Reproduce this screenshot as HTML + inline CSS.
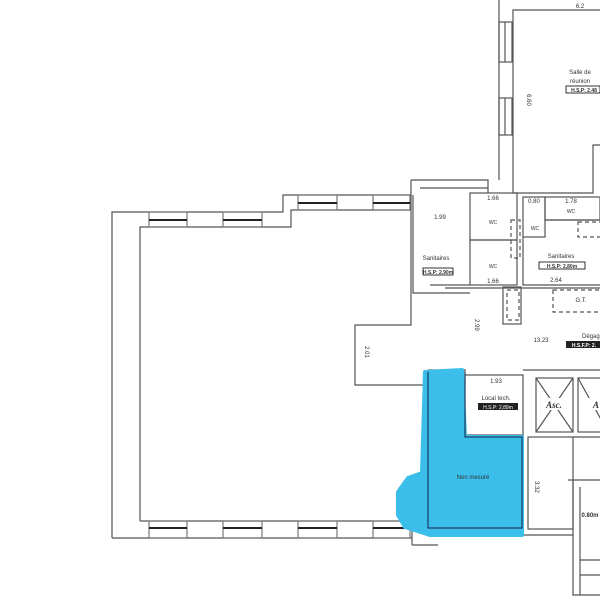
<!DOCTYPE html>
<html><head><meta charset="utf-8"><style>
html,body{margin:0;padding:0;background:#fff;}
svg{display:block;font-family:"Liberation Sans",sans-serif;}
</style></head><body>
<svg width="600" height="600" viewBox="0 0 600 600" xmlns="http://www.w3.org/2000/svg">
<g fill="none" stroke="#555" stroke-width="1.2">
<polyline points="112,538 112,212 283,212 283,195 411,195"/>
<polyline points="140,521 140,227 291,227 291,210 411,210"/>
<line x1="112" y1="538" x2="412" y2="538"/>
<line x1="140" y1="521" x2="412" y2="521"/>
<g stroke="#777">
<rect x="149" y="212" width="38" height="15"/><line x1="149" y1="220" x2="187" y2="220" stroke-width="2" stroke="#222"/>
<rect x="223" y="212" width="39" height="15"/><line x1="223" y1="220" x2="262" y2="220" stroke-width="2" stroke="#222"/>
<rect x="298" y="195" width="39" height="15"/><line x1="298" y1="203" x2="337" y2="203" stroke-width="2" stroke="#222"/>
<rect x="373" y="195" width="37" height="15"/><line x1="373" y1="203" x2="410" y2="203" stroke-width="2" stroke="#222"/>
<rect x="149" y="521" width="38" height="17"/><line x1="149" y1="528" x2="187" y2="528" stroke-width="2" stroke="#222"/>
<rect x="223" y="521" width="39" height="17"/><line x1="223" y1="528" x2="262" y2="528" stroke-width="2" stroke="#222"/>
<rect x="298" y="521" width="39" height="17"/><line x1="298" y1="528" x2="337" y2="528" stroke-width="2" stroke="#222"/>
<rect x="373" y="521" width="37" height="17"/><line x1="373" y1="528" x2="410" y2="528" stroke-width="2" stroke="#222"/>
</g>
<polyline points="411,180 411,325 355,325 355,385 428,385"/>
<polyline points="413,195 413,293 470,293"/>
<polyline points="411,180 488,180 488,193"/>
<line x1="420" y1="188" x2="488" y2="188"/>
<line x1="499" y1="0" x2="499" y2="180"/>
<polyline points="513,193 513,10 600,10"/>
<rect x="499" y="22" width="13" height="40"/><line x1="505" y1="22" x2="505" y2="62"/>
<rect x="499" y="98" width="13" height="37"/><line x1="505" y1="98" x2="505" y2="135"/>
<polyline points="513,193 593,193 593,145 600,145"/>
<rect x="470" y="193" width="47" height="47"/>
<rect x="470" y="240" width="47" height="45"/>
<rect x="523" y="197" width="22" height="40"/>
<rect x="545" y="197" width="55" height="23"/>
<polyline points="523,237 523,285 600,285"/>
<line x1="545" y1="220" x2="600" y2="220"/>
<line x1="445" y1="288" x2="600" y2="288"/>
<line x1="430" y1="285" x2="470" y2="285"/>
<g stroke-dasharray="4,3">
<rect x="511" y="220" width="9" height="38"/>
<rect x="507" y="290" width="12" height="30"/>
<rect x="553" y="290" width="50" height="22"/>
<rect x="578" y="222" width="25" height="15"/>
</g>
<rect x="503" y="287" width="18" height="37"/>
<rect x="465" y="375" width="58" height="60"/>
<polyline points="428,370 465,370 465,375"/>
<line x1="523" y1="370" x2="600" y2="370"/>
<rect x="536" y="378" width="37" height="54"/>
<line x1="536" y1="378" x2="573" y2="432"/><line x1="573" y1="378" x2="536" y2="432"/>
<rect x="578" y="378" width="30" height="54"/>
<line x1="578" y1="378" x2="608" y2="432"/>
<rect x="528" y="437" width="45" height="92"/>
<line x1="430" y1="535" x2="573" y2="535"/>
<polyline points="568,480 600,480"/><polyline points="573,480 573,595 600,595"/>
<line x1="580" y1="487" x2="580" y2="595"/>
<line x1="580" y1="560" x2="600" y2="560"/><line x1="580" y1="575" x2="600" y2="575"/>
<line x1="573" y1="437" x2="600" y2="437"/>
<line x1="412" y1="521" x2="412" y2="545"/><line x1="412" y1="545" x2="438" y2="545"/>
</g>
<path d="M425,372 L462,370 L465,437 L522,437 L522,535 L430,535 L405,527 L398,515 L398,492 L408,478 L422,473 Z" fill="#3bbfea" stroke="#3bbfea" stroke-width="4" stroke-linejoin="round"/>
<polyline points="428,372 428,528 522,528 522,437 465,437 465,372" fill="none" stroke="#124" stroke-width="1"/>
<rect x="543" y="398" width="22" height="12" fill="#fff"/>
<rect x="588" y="398" width="12" height="12" fill="#fff"/>
<g fill="#333" font-size="6" text-anchor="middle">
<text x="580" y="74">Salle de</text><text x="580" y="83">réunion</text>
<rect x="566" y="86" width="34" height="7" fill="none" stroke="#000" stroke-width="0.8"/>
<text x="584" y="92" font-size="5" font-weight="bold">H.S.P: 2.48</text>
<text x="527" y="100" transform="rotate(90 527 100)">6.60</text>
<text x="580" y="8">6.2</text>
<text x="440" y="219">1.99</text>
<text x="493" y="200">1.66</text>
<text x="493" y="224" font-size="5">WC</text>
<text x="493" y="268" font-size="5">WC</text>
<text x="535" y="230" font-size="5">WC</text>
<text x="571" y="213" font-size="5">WC</text>
<text x="534" y="203">0.80</text>
<text x="571" y="203">1.78</text>
<text x="493" y="283">1.66</text>
<text x="436" y="260">Sanitaires</text>
<rect x="423" y="268" width="30" height="7" fill="none" stroke="#000" stroke-width="0.8"/>
<text x="438" y="274" font-size="5" font-weight="bold">H.S.P: 2.90m</text>
<text x="561" y="258">Sanitaires</text>
<rect x="539" y="262" width="46" height="7" fill="none" stroke="#000" stroke-width="0.8"/>
<text x="562" y="268" font-size="5" font-weight="bold">H.S.P: 2,80m</text>
<text x="556" y="282">2.64</text>
<text x="581" y="302">G.T.</text>
<text x="365" y="352" transform="rotate(90 365 352)">2.01</text>
<text x="475" y="325" transform="rotate(90 475 325)">2.99</text>
<text x="541" y="342">13.23</text>
<text x="582" y="338" text-anchor="start">Dégagem</text>
<rect x="566" y="341" width="36" height="7" fill="#222"/>
<text x="584" y="347" font-size="5" fill="#fff" font-weight="bold">H.S.F.P: 2.</text>
<text x="496" y="383">1.93</text>
<text x="496" y="400">Local tech.</text>
<rect x="478" y="403" width="40" height="7" fill="#222"/>
<text x="498" y="409" font-size="5" fill="#fff">H.S.P: 2,89m</text>
<text x="554" y="408" font-family="Liberation Serif" font-weight="bold" font-style="italic" font-size="9">Asc.</text>
<text x="596" y="408" font-family="Liberation Serif" font-weight="bold" font-style="italic" font-size="9">A</text>
<text x="473" y="479" font-size="6">Non mesuré</text>
<text x="535" y="487" transform="rotate(90 535 487)">3.32</text>
<text x="590" y="517" font-weight="bold" font-size="6">0.80m</text>
</g>
</svg>
</body></html>
